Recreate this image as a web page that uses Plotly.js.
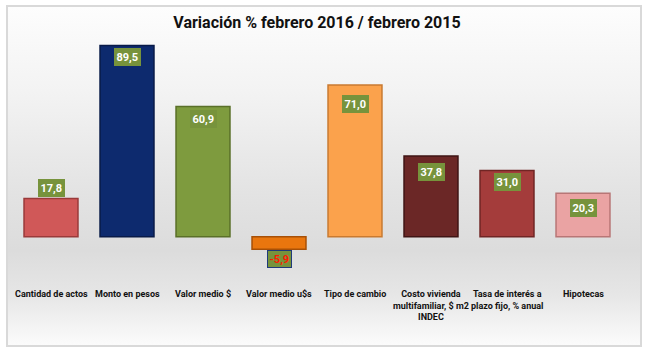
<!DOCTYPE html>
<html>
<head>
<meta charset="utf-8">
<script src="https://cdn.plot.ly/plotly-3.0.1.min.js"></script>
<style>
  html, body { margin:0; padding:0; background:#ffffff; }
  #frame { position:absolute; left:6px; top:5px; width:632px; height:338px;
    border:2px solid #d9d9d9;
    background: linear-gradient(to bottom, #fdfdfd 0%, #f3f3f3 25%, #e3e3e3 55%, #dcdcdc 72%, #e6e6e6 85%, #fbfbfb 100%); }
  #chart { position:absolute; left:0; top:0; width:645px; height:352px; }
</style>
</head>
<body>
<div id="frame"></div>
<div id="chart"></div>
<script>
const categories = ["Cantidad de actos", "Monto en pesos", "Valor medio $", "Valor medio u$s",
  "Tipo de cambio", "Costo vivienda<br>multifamiliar, $ m2<br>INDEC", "Tasa de interés a<br>plazo fijo, % anual", "Hipotecas"];
const values = [17.8, 89.5, 60.9, -5.9, 71.0, 37.8, 31.0, 20.3];
const labels = ["17,8", "89,5", "60,9", "-5,9", "71,0", "37,8", "31,0", "20,3"];

// styles
const barColors = ["#d05858", "#0d2a6e", "#7e9b3e", "#e9760e", "#fba24c", "#6b2726", "#a43c3b", "#eaa3a3"];
const lineColors = ["#9a3a3a", "#081a48", "#5a7028", "#a85006", "#c97a30", "#3f1414", "#702524", "#b87676"];
const labelShift = [2, -3, -3, -1, -10, -7, -3, -6];

const xs = categories.map((c, i) => i);
const FONT = "Roboto, 'DejaVu Sans', sans-serif";

const trace = {
  type: "bar",
  x: xs,
  y: values,
  width: 0.71,
  marker: { color: barColors, line: { color: lineColors, width: 1.5 } },
  hoverinfo: "skip"
};

const valueAnnotations = values.map((v, i) => {
  const above = i === 0;
  const neg = v < 0;
  return {
    x: xs[i], y: v, xref: "x", yref: "y",
    text: labels[i],
    showarrow: false,
    yanchor: above ? "bottom" : "top",
    yshift: labelShift[i],
    bgcolor: "#77933c",
    bordercolor: neg ? "#1f3a7a" : "#77933c",
    borderwidth: 1,
    borderpad: 1.5,
    font: { family: FONT, size: 11, weight: "bold", color: neg ? "#ff1a00" : "#ffffff" }
  };
});

const categoryAnnotations = categories.map((c, i) => ({
  x: xs[i], y: 0, xref: "x", yref: "paper",
  text: c, showarrow: false, align: "center",
  xanchor: "center", yanchor: "top", yshift: -29,
  font: { family: FONT, size: 9, weight: "bold", color: "#111111" }
}));

const layout = {
  width: 645, height: 352,
  margin: { l: 13, r: 24, t: 23, b: 94 },
  paper_bgcolor: "rgba(0,0,0,0)",
  plot_bgcolor: "rgba(0,0,0,0)",
  showlegend: false,
  title: {
    text: "Variación % febrero 2016 / febrero 2015",
    x: 0.5, xref: "paper", y: 0.935, yref: "container", yanchor: "middle",
    font: { family: FONT, size: 16, weight: "bold", color: "#111111" }
  },
  xaxis: {
    range: [-0.5, 7.5],
    tickmode: "array", tickvals: xs,
    showticklabels: false,
    ticks: "", showgrid: false, zeroline: false, showline: false
  },
  yaxis: {
    range: [-10, 100],
    showticklabels: false, showgrid: false, zeroline: false, showline: false, ticks: ""
  },
  annotations: valueAnnotations.concat(categoryAnnotations)
};

Plotly.newPlot("chart", [trace], layout, { displayModeBar: false, staticPlot: true });
</script>
</body>
</html>
